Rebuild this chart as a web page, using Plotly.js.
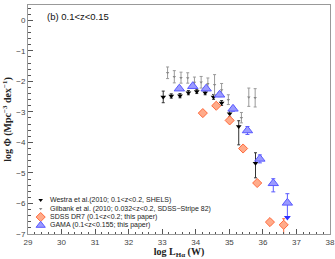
<!DOCTYPE html>
<html><head><meta charset="utf-8">
<script src="https://cdn.plot.ly/plotly-3.0.1.min.js"></script>
<style>html,body{margin:0;padding:0;background:#fff}#c{width:335px;height:259px}</style>
</head><body><div id="c"></div>
<script>
// Westra et al. (2010)
const westraL = [33.03, 33.27, 33.53, 33.78, 34.03, 34.28, 34.53, 34.77, 35.01, 35.28, 35.78];
const westraV = [-2.51, -2.48, -2.47, -2.37, -2.33, -2.37, -2.51, -2.71, -3.06, -3.48, -4.68];
const westraEp = [0.19, 0.07, 0.07, 0.07, 0.07, 0.07, 0.08, 0.08, 0.1, 0.19, 0.34];
const westraEm = [0.19, 0.07, 0.07, 0.07, 0.07, 0.07, 0.08, 0.08, 0.1, 0.6, 0.48];
// Gilbank et al. (2010)
const gilL = [33.16, 33.36, 33.56, 33.76, 33.96, 34.16, 34.36, 34.56, 34.77, 34.97, 35.36, 35.58, 35.77];
const gilV = [-1.72, -1.85, -1.88, -1.89, -2.04, -2.03, -2.08, -2.11, -2.28, -2.6, -3.19, -2.52, -2.54];
const gilE = [0.19, 0.2, 0.18, 0.17, 0.18, 0.19, 0.19, 0.33, 0.21, 0.16, 0.17, 0.3, 0.3];
// SDSS DR7
const sdssL = [34.21, 34.61, 35.01, 35.41, 35.83, 36.21, 36.62];
const sdssV = [-3.04, -2.80, -3.28, -4.20, -5.33, -6.61, -6.70];
const sdssEp = [0.03, 0.03, 0.03, 0.03, 0.04, 0.05, 0.2];
const sdssEm = [0.03, 0.03, 0.03, 0.03, 0.04, 0.05, 0.45];
// GAMA
const gamaL = [33.51, 33.91, 34.31, 34.71, 35.11, 35.54, 35.91, 36.31, 36.73];
const gamaV = [-2.24, -2.16, -2.24, -2.44, -2.90, -3.61, -4.54, -5.34, -5.98];
const gamaEp = [0.05, 0.05, 0.05, 0.06, 0.08, 0.13, 0.13, 0.15, 0.3];
const gamaEm = [0.05, 0.05, 0.05, 0.06, 0.08, 0.13, 0.13, 0.28, 0.48];
// legend labels
const seriesNames = [
  'Westra et al.(2010; 0.1<z<0.2, SHELS)',
  'Gilbank et al. (2010; 0.032<z<0.2, SDSS\u2212Stripe 82)',
  'SDSS DR7 (0.1<z<0.2; this paper)',
  'GAMA (0.1<z<0.155; this paper)'
];
// axis ticks
const xTicks = [29, 30, 31, 32, 33, 34, 35, 36, 37, 38];
const yTicks = [0, -1, -2, -3, -4, -5, -6, -7];

const markers = [
  {symbol: 'triangle-down', size: 5, color: '#000'},
  {symbol: 'triangle-down', size: 3, color: '#888'},
  {symbol: 'diamond', size: 7, color: '#ffab8a', line: {color: '#ff6a3d', width: 1}},
  {symbol: 'triangle-up', size: 9, color: '#9a9aff', line: {color: '#5a5aff', width: 1}}
];
const legendMarkers = [
  {symbol: 'triangle-down', size: 4, color: '#000'},
  {symbol: 'triangle-down', size: 3, color: '#888'},
  {symbol: 'diamond', size: 7, color: '#ffab8a', line: {color: '#ff6a3d', width: 1}},
  {symbol: 'triangle-up', size: 8, color: '#9a9aff', line: {color: '#5a5aff', width: 1}}
];

const lastG = gamaL.length - 1;
const traces = [
  {x: westraL, y: westraV, type: 'scatter', mode: 'markers', marker: markers[0],
   error_y: {type: 'data', symmetric: false, array: westraEp, arrayminus: westraEm, color: '#333', thickness: 1, width: 1.5}},
  {x: gilL, y: gilV, type: 'scatter', mode: 'markers', marker: markers[1],
   error_y: {type: 'data', array: gilE, color: '#999', thickness: 1, width: 1.5}},
  {x: sdssL, y: sdssV, type: 'scatter', mode: 'markers', marker: markers[2],
   error_y: {type: 'data', symmetric: false, array: sdssEp, arrayminus: sdssEm, color: '#ff6a3d', thickness: 1, width: 1.5}},
  {x: gamaL, y: gamaV, type: 'scatter', mode: 'markers', marker: markers[3],
   error_y: {type: 'data', symmetric: false, array: gamaEp, arrayminus: gamaEm, color: '#5a5aff', thickness: 1, width: 2}},
  {x: [gamaL[lastG]], y: [gamaV[lastG] - gamaEm[lastG]], type: 'scatter', mode: 'markers',
   marker: {symbol: 'triangle-down', size: 6, color: '#3030ff'}}
];

// compact legend drawn on an overlay axis (0..1 in both directions)
const legY = [0.148, 0.110, 0.074, 0.038];
const legSymX = 0.042, legTextX = 0.069;
legendMarkers.forEach((m, i) => {
  traces.push({x: [legSymX], y: [legY[i]], xaxis: 'x2', yaxis: 'y2', type: 'scatter', mode: 'markers', marker: m});
});

const axCommon = {
  showline: true, linecolor: '#999', linewidth: 1, mirror: true,
  ticks: 'inside', ticklen: 5, tickcolor: '#555', tickwidth: 1,
  showgrid: false, zeroline: false,
  tickfont: {family: 'Liberation Sans, Arial, sans-serif', size: 8, color: '#444'}
};

const annotations = [{
  xref: 'paper', yref: 'paper', x: 0.055, y: 0.95, xanchor: 'left', yanchor: 'middle',
  text: '(b) 0.1<z<0.15', showarrow: false,
  font: {family: 'Liberation Sans, Arial, sans-serif', size: 9.5, color: '#111'}
}];
seriesNames.forEach((n, i) => {
  annotations.push({xref: 'paper', yref: 'paper', x: legTextX, y: legY[i], xanchor: 'left', yanchor: 'middle',
    text: n, showarrow: false, borderpad: 0,
    font: {family: 'Liberation Sans, Arial, sans-serif', size: 7, color: '#222'}});
});

const layout = {
  width: 335, height: 259,
  margin: {l: 28, r: 5, t: 5, b: 25},
  paper_bgcolor: '#fff', plot_bgcolor: '#fff',
  showlegend: false,
  xaxis: Object.assign({}, axCommon, {
    range: [29, 38], tickvals: xTicks, ticktext: xTicks.map(String),
    minor: {dtick: 0.2, ticklen: 2.5, tickcolor: '#555', ticks: 'inside'},
    title: {text: 'log L<sub>H\u03b1</sub> (W)', standoff: 3,
            font: {family: 'Liberation Serif, Times New Roman, serif', size: 10, color: '#222', weight: 'bold'}}
  }),
  yaxis: Object.assign({}, axCommon, {
    range: [-7, 0.5], tickvals: yTicks, ticktext: yTicks.map(v => v === 0 ? '0' : '\u2212' + Math.abs(v)),
    minor: {dtick: 0.2, ticklen: 2.5, tickcolor: '#555', ticks: 'inside'},
    title: {text: 'log \u03a6 (Mpc<sup>\u22123</sup> dex<sup>\u22121</sup>)', standoff: 2,
            font: {family: 'Liberation Serif, Times New Roman, serif', size: 10, color: '#222', weight: 'bold'}}
  }),
  xaxis2: {overlaying: 'x', anchor: 'y2', range: [0, 1], visible: false, fixedrange: true},
  yaxis2: {overlaying: 'y', anchor: 'x2', range: [0, 1], visible: false, fixedrange: true},
  annotations: annotations
};

Plotly.newPlot('c', traces, layout, {staticPlot: true, displayModeBar: false});
</script></body></html>
